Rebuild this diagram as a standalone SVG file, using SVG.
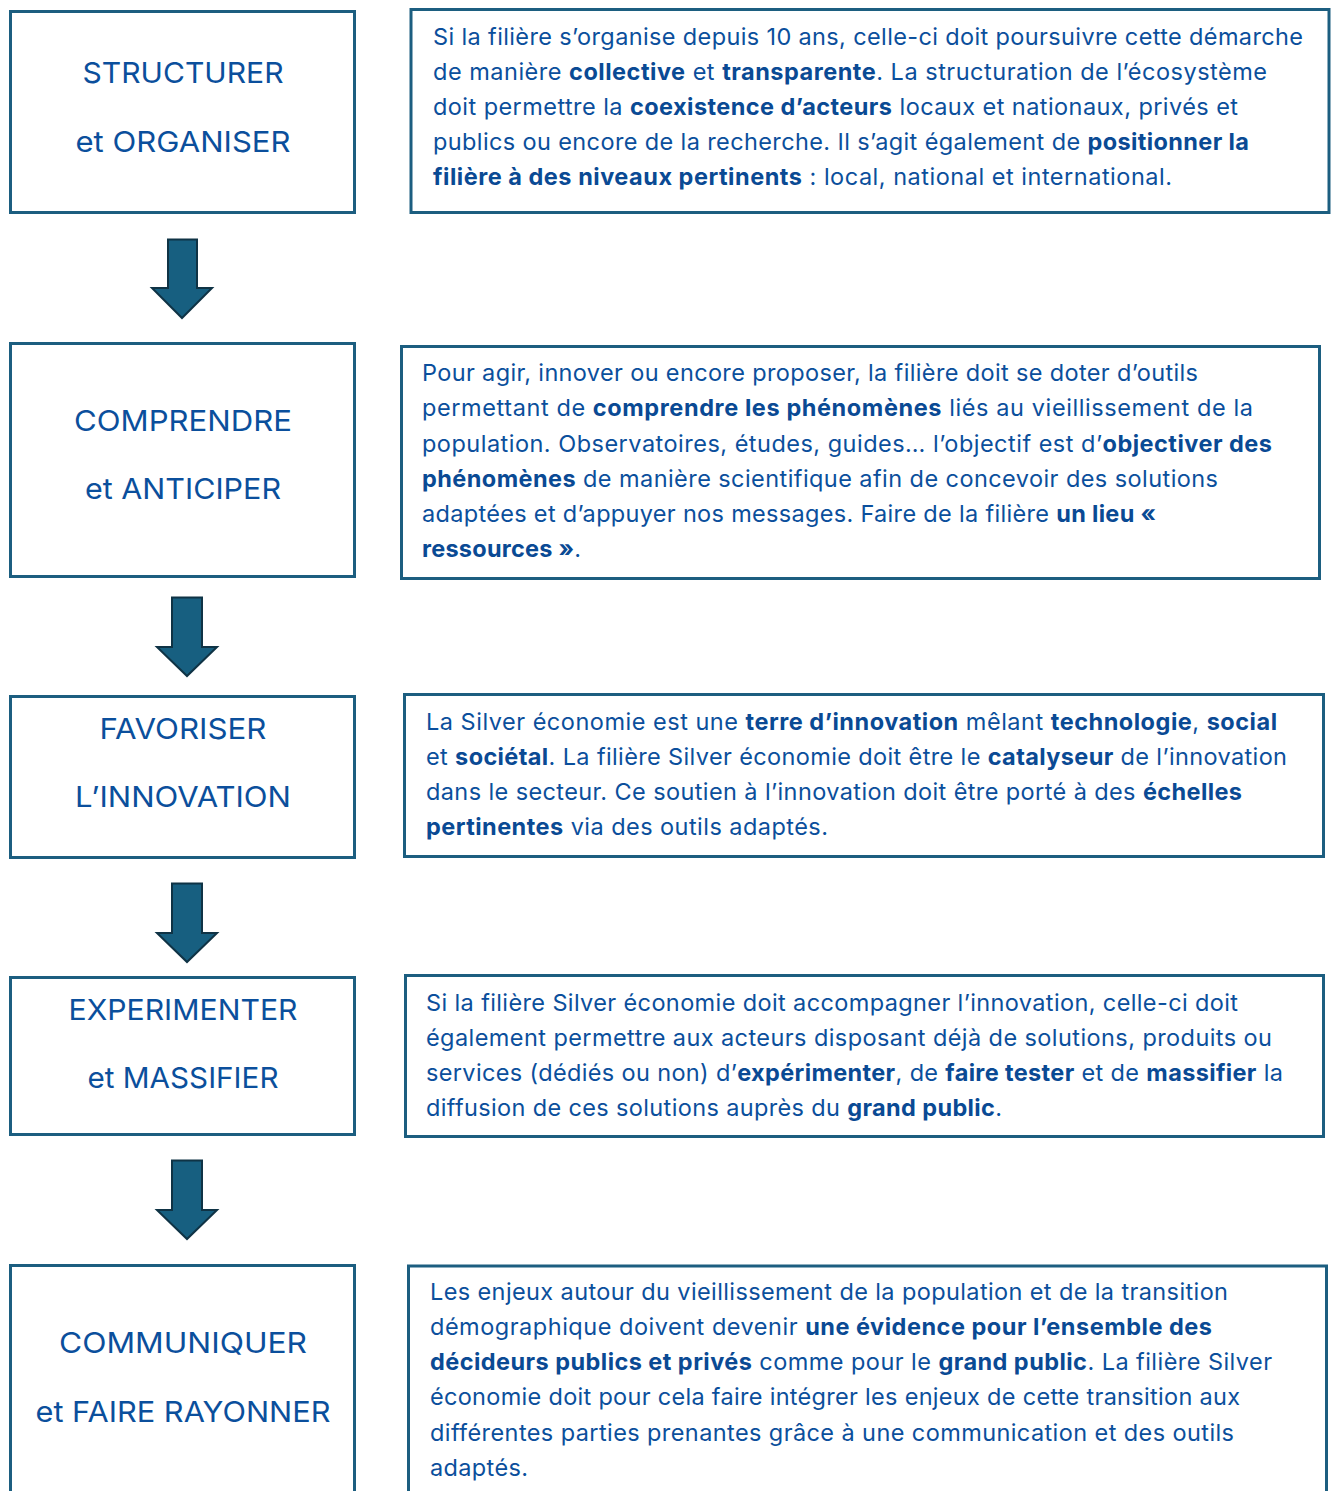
<svg xmlns="http://www.w3.org/2000/svg" width="1336" height="1491" viewBox="0 0 1336 1491">
<style>
.box{fill:#ffffff;stroke:#1c5e80;stroke-width:3}
.lbl{font-family:Inter,"Open Sans","Liberation Sans",sans-serif;font-size:29px;fill:#0b4f9c;text-anchor:middle}
.txt{font-family:Inter,"Open Sans","Liberation Sans",sans-serif;font-size:23.5px;fill:#0b4f9c}
.b{font-weight:700;fill:#0a4a94}
.arr{fill:#175f80;stroke:#0f3345;stroke-width:2;stroke-linejoin:miter}
</style>
<rect width="1336" height="1491" fill="#ffffff"/>

<g id="step1">
<rect class="box" x="10.5" y="11.5" width="344" height="201"/>
<text class="lbl" x="183" y="83" textLength="201" lengthAdjust="spacingAndGlyphs">STRUCTURER</text>
<text class="lbl" x="183" y="152" textLength="215" lengthAdjust="spacingAndGlyphs">et ORGANISER</text>
</g>
<g id="desc1">
<rect class="box" x="411" y="9.5" width="918" height="203"/>
<text class="txt" x="433" y="45" textLength="870" lengthAdjust="spacing">Si la filière s’organise depuis 10 ans, celle-ci doit poursuivre cette démarche</text>
<text class="txt" x="433" y="80" textLength="834" lengthAdjust="spacing">de manière <tspan class="b">collective</tspan> et <tspan class="b">transparente</tspan>. La structuration de l’écosystème</text>
<text class="txt" x="433" y="115" textLength="805" lengthAdjust="spacing">doit permettre la <tspan class="b">coexistence d’acteurs</tspan> locaux et nationaux, privés et</text>
<text class="txt" x="433" y="150" textLength="816" lengthAdjust="spacing">publics ou encore de la recherche. Il s’agit également de <tspan class="b">positionner la</tspan></text>
<text class="txt" x="433" y="185" textLength="739" lengthAdjust="spacing"><tspan class="b">filière à des niveaux pertinents</tspan> : local, national et international.</text>
</g>

<g id="step2">
<rect class="box" x="10.5" y="343.5" width="344" height="233"/>
<text class="lbl" x="183" y="431" textLength="218" lengthAdjust="spacingAndGlyphs">COMPRENDRE</text>
<text class="lbl" x="183" y="499" textLength="196" lengthAdjust="spacingAndGlyphs">et ANTICIPER</text>
</g>
<g id="desc2">
<rect class="box" x="401.5" y="346.5" width="918" height="232"/>
<text class="txt" x="422" y="381" textLength="776" lengthAdjust="spacing">Pour agir, innover ou encore proposer, la filière doit se doter d’outils</text>
<text class="txt" x="422" y="416" textLength="831" lengthAdjust="spacing">permettant de <tspan class="b">comprendre les phénomènes</tspan> liés au vieillissement de la</text>
<text class="txt" x="422" y="451.5" textLength="850" lengthAdjust="spacing">population. Observatoires, études, guides… l’objectif est d’<tspan class="b">objectiver des</tspan></text>
<text class="txt" x="422" y="487" textLength="796" lengthAdjust="spacing"><tspan class="b">phénomènes</tspan> de manière scientifique afin de concevoir des solutions</text>
<text class="txt" x="422" y="522" textLength="734" lengthAdjust="spacing">adaptées et d’appuyer nos messages. Faire de la filière <tspan class="b">un lieu «</tspan></text>
<text class="txt" x="422" y="557" textLength="159" lengthAdjust="spacing"><tspan class="b">ressources »</tspan>.</text>
</g>

<g id="step3">
<rect class="box" x="10.5" y="696.5" width="344" height="161"/>
<text class="lbl" x="183" y="739" textLength="167" lengthAdjust="spacingAndGlyphs">FAVORISER</text>
<text class="lbl" x="183" y="807" textLength="216" lengthAdjust="spacingAndGlyphs">L’INNOVATION</text>
</g>
<g id="desc3">
<rect class="box" x="404.5" y="694.5" width="919" height="162"/>
<text class="txt" x="426" y="730" textLength="851" lengthAdjust="spacing">La Silver économie est une <tspan class="b">terre d’innovation</tspan> mêlant <tspan class="b">technologie</tspan>, <tspan class="b">social</tspan></text>
<text class="txt" x="426" y="765" textLength="861" lengthAdjust="spacing">et <tspan class="b">sociétal</tspan>. La filière Silver économie doit être le <tspan class="b">catalyseur</tspan> de l’innovation</text>
<text class="txt" x="426" y="800" textLength="816" lengthAdjust="spacing">dans le secteur. Ce soutien à l’innovation doit être porté à des <tspan class="b">échelles</tspan></text>
<text class="txt" x="426" y="835" textLength="402" lengthAdjust="spacing"><tspan class="b">pertinentes</tspan> via des outils adaptés.</text>
</g>

<g id="step4">
<rect class="box" x="10.5" y="977.5" width="344" height="157"/>
<text class="lbl" x="183" y="1020" textLength="229" lengthAdjust="spacingAndGlyphs">EXPERIMENTER</text>
<text class="lbl" x="183" y="1088" textLength="191" lengthAdjust="spacingAndGlyphs">et MASSIFIER</text>
</g>
<g id="desc4">
<rect class="box" x="405.5" y="975.5" width="918" height="161"/>
<text class="txt" x="426" y="1011" textLength="812" lengthAdjust="spacing">Si la filière Silver économie doit accompagner l’innovation, celle-ci doit</text>
<text class="txt" x="426" y="1046" textLength="846" lengthAdjust="spacing">également permettre aux acteurs disposant déjà de solutions, produits ou</text>
<text class="txt" x="426" y="1081" textLength="857" lengthAdjust="spacing">services (dédiés ou non) d’<tspan class="b">expérimenter</tspan>, de <tspan class="b">faire tester</tspan> et de <tspan class="b">massifier</tspan> la</text>
<text class="txt" x="426" y="1116" textLength="576" lengthAdjust="spacing">diffusion de ces solutions auprès du <tspan class="b">grand public</tspan>.</text>
</g>

<g id="step5">
<rect class="box" x="10.5" y="1265.5" width="344" height="240"/>
<text class="lbl" x="183" y="1353" textLength="248" lengthAdjust="spacingAndGlyphs">COMMUNIQUER</text>
<text class="lbl" x="183" y="1422" textLength="295" lengthAdjust="spacingAndGlyphs">et FAIRE RAYONNER</text>
</g>
<g id="desc5">
<rect class="box" x="408.5" y="1266" width="918" height="240"/>
<text class="txt" x="430" y="1300" textLength="798" lengthAdjust="spacing">Les enjeux autour du vieillissement de la population et de la transition</text>
<text class="txt" x="430" y="1335" textLength="782" lengthAdjust="spacing">démographique doivent devenir <tspan class="b">une évidence pour l’ensemble des</tspan></text>
<text class="txt" x="430" y="1370" textLength="842" lengthAdjust="spacing"><tspan class="b">décideurs publics et privés</tspan> comme pour le <tspan class="b">grand public</tspan>. La filière Silver</text>
<text class="txt" x="430" y="1405" textLength="810" lengthAdjust="spacing">économie doit pour cela faire intégrer les enjeux de cette transition aux</text>
<text class="txt" x="430" y="1441" textLength="804" lengthAdjust="spacing">différentes parties prenantes grâce à une communication et des outils</text>
<text class="txt" x="430" y="1476" textLength="98" lengthAdjust="spacing">adaptés.</text>
</g>

<g id="connectors">
<polygon class="arr" points="168,239.5 197,239.5 197,288 212,288 182,318 152,288 168,288"/>
<polygon class="arr" points="172,597.5 202,597.5 202,647 217,647 187,676 157,647 172,647"/>
<polygon class="arr" points="172,883.5 202,883.5 202,933 217,933 187,962 157,933 172,933"/>
<polygon class="arr" points="172,1160.5 202,1160.5 202,1210 217,1210 187,1239 157,1210 172,1210"/>
</g>
</svg>
